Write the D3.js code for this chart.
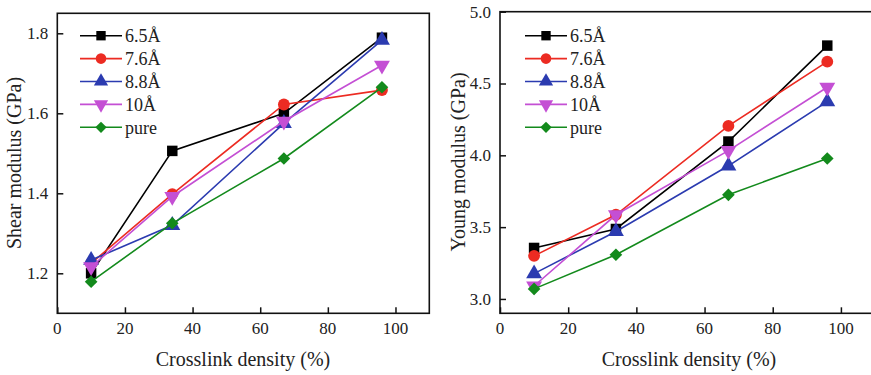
<!DOCTYPE html>
<html>
<head>
<meta charset="utf-8">
<script src="https://cdn.jsdelivr.net/npm/d3@7"></script>
<style>
  body { margin: 0; background: #fff; }
</style>
</head>
<body>
<script>
// crosslink density (%) shared by both panels
var density = [10, 34, 67, 96];
var seriesNames = ["6.5Å", "7.6Å", "8.8Å", "10Å", "pure"];

// shear modulus (GPa)
var shear65 = [1.200, 1.506, 1.600, 1.789];
var shear76 = [1.225, 1.398, 1.622, 1.658];
var shear88 = [1.233, 1.320, 1.575, 1.783];
var shear10 = [1.216, 1.392, 1.580, 1.720];
var shearPure = [1.179, 1.325, 1.487, 1.665];

// Young modulus (GPa)
var young65 = [3.355, 3.487, 4.096, 4.764];
var young76 = [3.300, 3.586, 4.205, 4.652];
var young88 = [3.176, 3.470, 3.927, 4.374];
var young10 = [3.090, 3.586, 4.033, 4.474];
var youngPure = [3.070, 3.308, 3.725, 3.978];

var xTicks = [0, 20, 40, 60, 80, 100];
var shearTicks = [1.2, 1.4, 1.6, 1.8];
var youngTicks = [3.0, 3.5, 4.0, 4.5, 5.0];

var FONT = "'Liberation Serif', 'Times New Roman', serif";
var colors = ["#000000", "#ec2b22", "#2b3bb0", "#c44fd4", "#138a1c"];
// square, circle, up triangle, down triangle, diamond (square turned 45°)
var symbols = [d3.symbolSquare, d3.symbolCircle, d3.symbolTriangle, d3.symbolTriangle, d3.symbolSquare];
var symbolSize = [110, 110, 110, 110, 80];
var symbolRotate = [0, 0, 0, 180, 45];

var svg = d3.select("body")
  .append("svg")
  .attr("width", 871)
  .attr("height", 375);

function panel(opt) {
  var g = svg.append("g");
  var x = d3.scaleLinear().domain([0, 110]).range([opt.left, opt.right]);
  var y = d3.scaleLinear().domain(opt.yDomain).range([313.3, opt.top]);

  // x ticks, pointing inward
  g.append("g")
    .attr("transform", "translate(0,313.3)")
    .call(d3.axisTop(x).tickValues(xTicks).tickSize(6).tickFormat(""))
    .call(function(a) { a.select(".domain").remove(); })
    .selectAll("line").attr("stroke", "#111").attr("stroke-width", 1.5);

  g.selectAll(".xl")
    .data(xTicks)
    .enter()
    .append("text")
    .attr("x", function(d) { return x(d); })
    .attr("y", 334)
    .attr("text-anchor", "middle")
    .attr("font-family", FONT)
    .attr("font-size", 17)
    .attr("fill", "#222")
    .text(function(d) { return d; });

  // y ticks, pointing inward
  g.append("g")
    .attr("transform", "translate(" + opt.left + ",0)")
    .call(d3.axisRight(y).tickValues(opt.yTicks).tickSize(6).tickFormat(""))
    .call(function(a) { a.select(".domain").remove(); })
    .selectAll("line").attr("stroke", "#111").attr("stroke-width", 1.5);

  g.selectAll(".yl")
    .data(opt.yTicks)
    .enter()
    .append("text")
    .attr("x", opt.left - 9)
    .attr("y", function(d) { return y(d); })
    .attr("dy", "0.35em")
    .attr("text-anchor", "end")
    .attr("font-family", FONT)
    .attr("font-size", 17)
    .attr("fill", "#222")
    .text(function(d) { return d.toFixed(1); });

  // frame
  g.append("rect")
    .attr("x", opt.left)
    .attr("y", opt.top)
    .attr("width", opt.frameRight - opt.left)
    .attr("height", 313.3 - opt.top)
    .attr("fill", "none")
    .attr("stroke", "#111")
    .attr("stroke-width", 1.6);

  // titles
  g.append("text")
    .attr("x", opt.xTitleX)
    .attr("y", 366)
    .attr("text-anchor", "middle")
    .attr("font-family", FONT)
    .attr("font-size", 20)
    .attr("fill", "#222")
    .text("Crosslink density (%)");

  g.append("text")
    .attr("transform", "translate(" + opt.yTitleX + "," + opt.yTitleY + ") rotate(-90)")
    .attr("text-anchor", "middle")
    .attr("font-family", FONT)
    .attr("font-size", 20)
    .attr("fill", "#222")
    .text(opt.yTitle);

  var line = d3.line()
    .x(function(d) { return x(d[0]); })
    .y(function(d) { return y(d[1]); });

  opt.series.forEach(function(vals, i) {
    var pts = density.map(function(d, j) { return [d, vals[j]]; });
    var s = g.append("g");
    s.append("path")
      .datum(pts)
      .attr("d", line)
      .attr("fill", "none")
      .attr("stroke", colors[i])
      .attr("stroke-width", 1.6);
    s.selectAll("path.m")
      .data(pts)
      .enter()
      .append("path")
      .attr("class", "m")
      .attr("d", d3.symbol().type(symbols[i]).size(symbolSize[i]))
      .attr("transform", function(d) {
        return "translate(" + x(d[0]) + "," + y(d[1]) + ") rotate(" + symbolRotate[i] + ")";
      })
      .attr("fill", colors[i]);
  });

  // legend
  var lg = g.append("g");
  seriesNames.forEach(function(name, i) {
    var ly = 35.7 + i * 22.9;
    lg.append("line")
      .attr("x1", opt.legendX).attr("x2", opt.legendX + 42)
      .attr("y1", ly).attr("y2", ly)
      .attr("stroke", colors[i])
      .attr("stroke-width", 1.6);
    lg.append("path")
      .attr("d", d3.symbol().type(symbols[i]).size(symbolSize[i] * 0.8))
      .attr("transform", "translate(" + (opt.legendX + 21) + "," + ly + ") rotate(" + symbolRotate[i] + ")")
      .attr("fill", colors[i]);
    lg.append("text")
      .attr("x", opt.legendX + 45)
      .attr("y", ly)
      .attr("dy", "0.35em")
      .attr("font-family", FONT)
      .attr("font-size", 18)
      .attr("fill", "#222")
      .text(name);
  });
}

panel({
  left: 57.3, right: 429.3, frameRight: 429.3, top: 13.3,
  yDomain: [1.1, 1.85], yTicks: shearTicks,
  series: [shear65, shear76, shear88, shear10, shearPure],
  yTitle: "Shear modulus (GPa)", yTitleX: 21, yTitleY: 163,
  xTitleX: 243, legendX: 80
});

panel({
  left: 500, right: 875, frameRight: 875, top: 11.7,
  yDomain: [2.9, 5.0], yTicks: youngTicks,
  series: [young65, young76, young88, young10, youngPure],
  yTitle: "Young modulus (GPa)", yTitleX: 465, yTitleY: 162,
  xTitleX: 689, legendX: 525
});
</script>
</body>
</html>
